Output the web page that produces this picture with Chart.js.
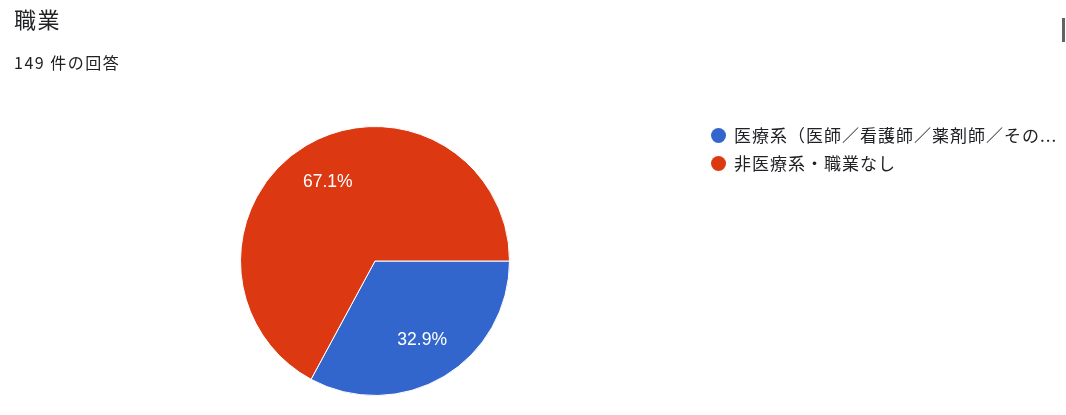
<!DOCTYPE html>
<html lang="ja">
<head>
<meta charset="utf-8">
<script src="https://cdn.jsdelivr.net/npm/chart.js@4"></script>
<style>
  html, body { margin: 0; padding: 0; background: #fff; }
  body { width: 1066px; height: 415px; position: relative; overflow: hidden;
         font-family: "Noto Sans CJK JP", "Liberation Sans", Arial, sans-serif; color: #202124; }
  #wrap { position: absolute; left: 0; top: 0; width: 1066px; height: 415px; }
  .title { position: absolute; left: 14px; top: 3px; font-size: 22px; line-height: 30px; letter-spacing: 1.5px; }
  .sub { position: absolute; left: 14px; top: 51px; font-size: 16px; line-height: 22px; letter-spacing: 1.5px; }
  .legend { position: absolute; left: 710px; top: 121px; font-size: 17px; letter-spacing: 1px; }
  .legend div { height: 28px; line-height: 28px; white-space: nowrap; position: relative; padding-left: 24px; }
  .legend span.dot { position: absolute; left: 1px; top: 7px; width: 15px; height: 15px; border-radius: 50%; }
  .icon { position: absolute; left: 1062px; top: 18px; width: 3px; height: 24px; background: #5f6368; }
</style>
</head>
<body>
<div id="wrap"><canvas id="c" width="1066" height="415"></canvas></div>
<div class="title">職業</div>
<div class="sub">149 件の回答</div>
<div class="legend" id="legend"></div>
<div class="icon"></div>
<script>
const categories = ["医療系（医師／看護師／薬剤師／その他医療従事者）", "非医療系・職業なし"];
const legendLabels = ["医療系（医師／看護師／薬剤師／その...", "非医療系・職業なし"];
const counts = [49, 100];
const colors = ["#3366cc", "#dc3912"];

const legend = document.getElementById('legend');
legendLabels.forEach((t, i) => {
  const d = document.createElement('div');
  const s = document.createElement('span');
  s.className = 'dot'; s.style.background = colors[i];
  d.appendChild(s);
  d.appendChild(document.createTextNode(t));
  legend.appendChild(d);
});

const total = counts.reduce((a, b) => a + b, 0);

const pctLabels = {
  id: 'pctLabels',
  afterDatasetsDraw(chart) {
    const ctx = chart.ctx;
    const meta = chart.getDatasetMeta(0);
    ctx.save();
    ctx.fillStyle = '#ffffff';
    ctx.font = '17.5px "Liberation Sans", Arial, sans-serif';
    ctx.textAlign = 'center';
    ctx.textBaseline = 'middle';
    meta.data.forEach((arc, i) => {
      const p = arc.getProps(['x', 'y', 'startAngle', 'endAngle', 'outerRadius'], true);
      const mid = (p.startAngle + p.endAngle) / 2;
      const r = p.outerRadius * 0.685;
      const txt = (counts[i] / total * 100).toFixed(1) + '%';
      ctx.fillText(txt, p.x + Math.cos(mid) * r, p.y + Math.sin(mid) * r);
    });
    ctx.restore();
  }
};

new Chart(document.getElementById('c'), {
  type: 'pie',
  data: {
    labels: categories,
    datasets: [{
      data: counts,
      backgroundColor: colors,
      borderColor: '#ffffff',
      borderWidth: 1
    }]
  },
  options: {
    responsive: false,
    animation: false,
    rotation: 90,
    layout: { padding: { left: 240, right: 556, top: 126, bottom: 19 } },
    plugins: { legend: { display: false }, tooltip: { enabled: false } }
  },
  plugins: [pctLabels]
});
</script>
</body>
</html>
